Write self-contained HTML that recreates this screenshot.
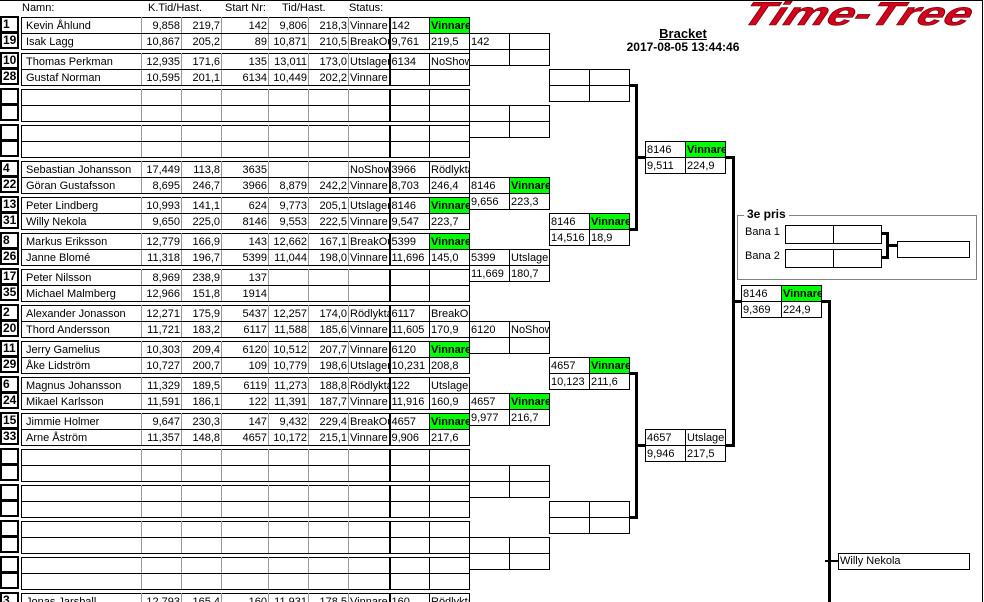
<!DOCTYPE html>
<html><head><meta charset="utf-8">
<style>
*{margin:0;padding:0;box-sizing:border-box}
html,body{width:984px;height:602px;overflow:hidden;background:#fff}
body{position:relative;font-family:"Liberation Sans",Arial,sans-serif;font-size:11px;color:#000}
.a{position:absolute}
.frame{position:absolute;left:0;top:0;width:983px;height:602px;border-top:1px solid #000;border-right:1px solid #000}
.hd{position:absolute;top:2px;font-size:11px}
.s{position:absolute;left:0;width:19px;height:17px;border:2px solid #000;font-weight:bold;font-size:12px;line-height:13px;padding-left:1px;background:#fff}
table{border-collapse:collapse;table-layout:fixed;position:absolute}
td{height:16px;padding:0 1px;border:1px solid #000;white-space:nowrap;overflow:hidden;line-height:14px;font-size:11px}
table.p{left:21px;width:448px}
table.p td.g{border-left-color:#999;border-right-color:#999}
table.p td.n{padding-left:4px;border-right-color:#999}
td.r{text-align:right}
td.k{border-left:2px solid #000}
td.v{background:#00ff00;font-weight:bold}
table.b{width:80px}
.ln{position:absolute;background:#000}
</style></head><body>
<div class="frame"></div>
<div class="hd" style="left:22px">Namn:</div>
<div class="hd" style="left:148px">K.Tid/Hast.</div>
<div class="hd" style="left:225px">Start Nr:</div>
<div class="hd" style="left:282px">Tid/Hast.</div>
<div class="hd" style="left:349px">Status:</div>

<svg class="a" style="left:730px;top:0" width="250" height="28">
<text x="10" y="25" font-family="Liberation Sans" font-weight="bold" font-style="italic" font-size="33" fill="#d4001c" stroke="#600" stroke-width="0.6" textLength="228" lengthAdjust="spacingAndGlyphs" transform="skewX(-22) translate(10,0)">Time-Tree</text>
</svg>
<div class="a" style="left:603px;top:26px;width:160px;text-align:center;font-weight:bold;font-size:13px;text-decoration:underline">Bracket</div>
<div class="a" style="left:603px;top:40px;width:160px;text-align:center;font-weight:bold;font-size:12px">2017-08-05 13:44:46</div>

<!-- seeds -->
<div class="s" style="top:16px">1</div><div class="s" style="top:32px">19</div>
<div class="s" style="top:52px">10</div><div class="s" style="top:68px">28</div>
<div class="s" style="top:88px"></div><div class="s" style="top:104px"></div>
<div class="s" style="top:124px"></div><div class="s" style="top:140px"></div>
<div class="s" style="top:160px">4</div><div class="s" style="top:176px">22</div>
<div class="s" style="top:196px">13</div><div class="s" style="top:212px">31</div>
<div class="s" style="top:232px">8</div><div class="s" style="top:248px">26</div>
<div class="s" style="top:268px">17</div><div class="s" style="top:284px">35</div>
<div class="s" style="top:304px">2</div><div class="s" style="top:320px">20</div>
<div class="s" style="top:340px">11</div><div class="s" style="top:356px">29</div>
<div class="s" style="top:376px">6</div><div class="s" style="top:392px">24</div>
<div class="s" style="top:412px">15</div><div class="s" style="top:428px">33</div>
<div class="s" style="top:448px"></div><div class="s" style="top:464px"></div>
<div class="s" style="top:484px"></div><div class="s" style="top:500px"></div>
<div class="s" style="top:520px"></div><div class="s" style="top:536px"></div>
<div class="s" style="top:556px"></div><div class="s" style="top:572px"></div>
<div class="s" style="top:592px">3</div>

<colgroup></colgroup>
<table class="p" style="top:17px"><col style="width:120px"><col style="width:40px"><col style="width:40px"><col style="width:47px"><col style="width:40px"><col style="width:40px"><col style="width:41px"><col style="width:40px"><col style="width:40px">
<tr><td class="n">Kevin Åhlund</td><td class="g r">9,858</td><td class="g r">219,7</td><td class="g r">142</td><td class="g r">9,806</td><td class="g r">218,3</td><td class="g">Vinnare</td><td class="k">142</td><td class="v">Vinnare</td></tr>
<tr><td class="n">Isak Lagg</td><td class="g r">10,867</td><td class="g r">205,2</td><td class="g r">89</td><td class="g r">10,871</td><td class="g r">210,5</td><td class="g">BreakOut</td><td class="k">9,761</td><td>219,5</td></tr></table>

<table class="p" style="top:53px"><col style="width:120px"><col style="width:40px"><col style="width:40px"><col style="width:47px"><col style="width:40px"><col style="width:40px"><col style="width:41px"><col style="width:40px"><col style="width:40px">
<tr><td class="n">Thomas Perkman</td><td class="g r">12,935</td><td class="g r">171,6</td><td class="g r">135</td><td class="g r">13,011</td><td class="g r">173,0</td><td class="g">Utslagen</td><td class="k">6134</td><td>NoShow</td></tr>
<tr><td class="n">Gustaf Norman</td><td class="g r">10,595</td><td class="g r">201,1</td><td class="g r">6134</td><td class="g r">10,449</td><td class="g r">202,2</td><td class="g">Vinnare</td><td class="k"></td><td></td></tr></table>

<table class="p" style="top:89px"><col style="width:120px"><col style="width:40px"><col style="width:40px"><col style="width:47px"><col style="width:40px"><col style="width:40px"><col style="width:41px"><col style="width:40px"><col style="width:40px">
<tr><td class="n"></td><td class="g"></td><td class="g"></td><td class="g"></td><td class="g"></td><td class="g"></td><td class="g"></td><td class="k"></td><td></td></tr>
<tr><td class="n"></td><td class="g"></td><td class="g"></td><td class="g"></td><td class="g"></td><td class="g"></td><td class="g"></td><td class="k"></td><td></td></tr></table>

<table class="p" style="top:125px"><col style="width:120px"><col style="width:40px"><col style="width:40px"><col style="width:47px"><col style="width:40px"><col style="width:40px"><col style="width:41px"><col style="width:40px"><col style="width:40px">
<tr><td class="n"></td><td class="g"></td><td class="g"></td><td class="g"></td><td class="g"></td><td class="g"></td><td class="g"></td><td class="k"></td><td></td></tr>
<tr><td class="n"></td><td class="g"></td><td class="g"></td><td class="g"></td><td class="g"></td><td class="g"></td><td class="g"></td><td class="k"></td><td></td></tr></table>

<table class="p" style="top:161px"><col style="width:120px"><col style="width:40px"><col style="width:40px"><col style="width:47px"><col style="width:40px"><col style="width:40px"><col style="width:41px"><col style="width:40px"><col style="width:40px">
<tr><td class="n">Sebastian Johansson</td><td class="g r">17,449</td><td class="g r">113,8</td><td class="g r">3635</td><td class="g r"></td><td class="g r"></td><td class="g r">NoShow</td><td class="k">3966</td><td>Rödlykta</td></tr>
<tr><td class="n">Göran Gustafsson</td><td class="g r">8,695</td><td class="g r">246,7</td><td class="g r">3966</td><td class="g r">8,879</td><td class="g r">242,2</td><td class="g">Vinnare</td><td class="k">8,703</td><td>246,4</td></tr></table>

<table class="p" style="top:197px"><col style="width:120px"><col style="width:40px"><col style="width:40px"><col style="width:47px"><col style="width:40px"><col style="width:40px"><col style="width:41px"><col style="width:40px"><col style="width:40px">
<tr><td class="n">Peter Lindberg</td><td class="g r">10,993</td><td class="g r">141,1</td><td class="g r">624</td><td class="g r">9,773</td><td class="g r">205,1</td><td class="g">Utslagen</td><td class="k">8146</td><td class="v">Vinnare</td></tr>
<tr><td class="n">Willy Nekola</td><td class="g r">9,650</td><td class="g r">225,0</td><td class="g r">8146</td><td class="g r">9,553</td><td class="g r">222,5</td><td class="g">Vinnare</td><td class="k">9,547</td><td>223,7</td></tr></table>

<table class="p" style="top:233px"><col style="width:120px"><col style="width:40px"><col style="width:40px"><col style="width:47px"><col style="width:40px"><col style="width:40px"><col style="width:41px"><col style="width:40px"><col style="width:40px">
<tr><td class="n">Markus Eriksson</td><td class="g r">12,779</td><td class="g r">166,9</td><td class="g r">143</td><td class="g r">12,662</td><td class="g r">167,1</td><td class="g">BreakOut</td><td class="k">5399</td><td class="v">Vinnare</td></tr>
<tr><td class="n">Janne Blomé</td><td class="g r">11,318</td><td class="g r">196,7</td><td class="g r">5399</td><td class="g r">11,044</td><td class="g r">198,0</td><td class="g">Vinnare</td><td class="k">11,696</td><td>145,0</td></tr></table>

<table class="p" style="top:269px"><col style="width:120px"><col style="width:40px"><col style="width:40px"><col style="width:47px"><col style="width:40px"><col style="width:40px"><col style="width:41px"><col style="width:40px"><col style="width:40px">
<tr><td class="n">Peter Nilsson</td><td class="g r">8,969</td><td class="g r">238,9</td><td class="g r">137</td><td class="g"></td><td class="g"></td><td class="g"></td><td class="k"></td><td></td></tr>
<tr><td class="n">Michael Malmberg</td><td class="g r">12,966</td><td class="g r">151,8</td><td class="g r">1914</td><td class="g"></td><td class="g"></td><td class="g"></td><td class="k"></td><td></td></tr></table>

<table class="p" style="top:305px"><col style="width:120px"><col style="width:40px"><col style="width:40px"><col style="width:47px"><col style="width:40px"><col style="width:40px"><col style="width:41px"><col style="width:40px"><col style="width:40px">
<tr><td class="n">Alexander Jonasson</td><td class="g r">12,271</td><td class="g r">175,9</td><td class="g r">5437</td><td class="g r">12,257</td><td class="g r">174,0</td><td class="g">Rödlykta</td><td class="k">6117</td><td>BreakOut</td></tr>
<tr><td class="n">Thord Andersson</td><td class="g r">11,721</td><td class="g r">183,2</td><td class="g r">6117</td><td class="g r">11,588</td><td class="g r">185,6</td><td class="g">Vinnare</td><td class="k">11,605</td><td>170,9</td></tr></table>

<table class="p" style="top:341px"><col style="width:120px"><col style="width:40px"><col style="width:40px"><col style="width:47px"><col style="width:40px"><col style="width:40px"><col style="width:41px"><col style="width:40px"><col style="width:40px">
<tr><td class="n">Jerry Gamelius</td><td class="g r">10,303</td><td class="g r">209,4</td><td class="g r">6120</td><td class="g r">10,512</td><td class="g r">207,7</td><td class="g">Vinnare</td><td class="k">6120</td><td class="v">Vinnare</td></tr>
<tr><td class="n">Åke Lidström</td><td class="g r">10,727</td><td class="g r">200,7</td><td class="g r">109</td><td class="g r">10,779</td><td class="g r">198,6</td><td class="g">Utslagen</td><td class="k">10,231</td><td>208,8</td></tr></table>

<table class="p" style="top:377px"><col style="width:120px"><col style="width:40px"><col style="width:40px"><col style="width:47px"><col style="width:40px"><col style="width:40px"><col style="width:41px"><col style="width:40px"><col style="width:40px">
<tr><td class="n">Magnus Johansson</td><td class="g r">11,329</td><td class="g r">189,5</td><td class="g r">6119</td><td class="g r">11,273</td><td class="g r">188,8</td><td class="g">Rödlykta</td><td class="k">122</td><td>Utslagen</td></tr>
<tr><td class="n">Mikael Karlsson</td><td class="g r">11,591</td><td class="g r">186,1</td><td class="g r">122</td><td class="g r">11,391</td><td class="g r">187,7</td><td class="g">Vinnare</td><td class="k">11,916</td><td>160,9</td></tr></table>

<table class="p" style="top:413px"><col style="width:120px"><col style="width:40px"><col style="width:40px"><col style="width:47px"><col style="width:40px"><col style="width:40px"><col style="width:41px"><col style="width:40px"><col style="width:40px">
<tr><td class="n">Jimmie Holmer</td><td class="g r">9,647</td><td class="g r">230,3</td><td class="g r">147</td><td class="g r">9,432</td><td class="g r">229,4</td><td class="g">BreakOut</td><td class="k">4657</td><td class="v">Vinnare</td></tr>
<tr><td class="n">Arne Åström</td><td class="g r">11,357</td><td class="g r">148,8</td><td class="g r">4657</td><td class="g r">10,172</td><td class="g r">215,1</td><td class="g">Vinnare</td><td class="k">9,906</td><td>217,6</td></tr></table>

<table class="p" style="top:449px"><col style="width:120px"><col style="width:40px"><col style="width:40px"><col style="width:47px"><col style="width:40px"><col style="width:40px"><col style="width:41px"><col style="width:40px"><col style="width:40px">
<tr><td class="n"></td><td class="g"></td><td class="g"></td><td class="g"></td><td class="g"></td><td class="g"></td><td class="g"></td><td class="k"></td><td></td></tr>
<tr><td class="n"></td><td class="g"></td><td class="g"></td><td class="g"></td><td class="g"></td><td class="g"></td><td class="g"></td><td class="k"></td><td></td></tr></table>

<table class="p" style="top:485px"><col style="width:120px"><col style="width:40px"><col style="width:40px"><col style="width:47px"><col style="width:40px"><col style="width:40px"><col style="width:41px"><col style="width:40px"><col style="width:40px">
<tr><td class="n"></td><td class="g"></td><td class="g"></td><td class="g"></td><td class="g"></td><td class="g"></td><td class="g"></td><td class="k"></td><td></td></tr>
<tr><td class="n"></td><td class="g"></td><td class="g"></td><td class="g"></td><td class="g"></td><td class="g"></td><td class="g"></td><td class="k"></td><td></td></tr></table>

<table class="p" style="top:521px"><col style="width:120px"><col style="width:40px"><col style="width:40px"><col style="width:47px"><col style="width:40px"><col style="width:40px"><col style="width:41px"><col style="width:40px"><col style="width:40px">
<tr><td class="n"></td><td class="g"></td><td class="g"></td><td class="g"></td><td class="g"></td><td class="g"></td><td class="g"></td><td class="k"></td><td></td></tr>
<tr><td class="n"></td><td class="g"></td><td class="g"></td><td class="g"></td><td class="g"></td><td class="g"></td><td class="g"></td><td class="k"></td><td></td></tr></table>

<table class="p" style="top:557px"><col style="width:120px"><col style="width:40px"><col style="width:40px"><col style="width:47px"><col style="width:40px"><col style="width:40px"><col style="width:41px"><col style="width:40px"><col style="width:40px">
<tr><td class="n"></td><td class="g"></td><td class="g"></td><td class="g"></td><td class="g"></td><td class="g"></td><td class="g"></td><td class="k"></td><td></td></tr>
<tr><td class="n"></td><td class="g"></td><td class="g"></td><td class="g"></td><td class="g"></td><td class="g"></td><td class="g"></td><td class="k"></td><td></td></tr></table>

<table class="p" style="top:593px"><col style="width:120px"><col style="width:40px"><col style="width:40px"><col style="width:47px"><col style="width:40px"><col style="width:40px"><col style="width:41px"><col style="width:40px"><col style="width:40px">
<tr><td class="n">Jonas Jarsball</td><td class="g r">12,793</td><td class="g r">165,4</td><td class="g r">160</td><td class="g r">11,931</td><td class="g r">178,5</td><td class="g">Vinnare</td><td class="k">160</td><td>Rödlykta</td></tr>
<tr><td class="n">&nbsp;</td><td class="g"></td><td class="g"></td><td class="g"></td><td class="g"></td><td class="g"></td><td class="g"></td><td class="k"></td><td></td></tr></table>

<!-- round 2 -->
<table class="b" style="left:469px;top:33px"><col style="width:40px"><col style="width:40px"><tr><td>142</td><td></td></tr><tr><td></td><td></td></tr></table>
<table class="b" style="left:469px;top:105px"><col style="width:40px"><col style="width:40px"><tr><td></td><td></td></tr><tr><td></td><td></td></tr></table>
<table class="b" style="left:469px;top:177px"><col style="width:40px"><col style="width:40px"><tr><td>8146</td><td class="v">Vinnare</td></tr><tr><td>9,656</td><td>223,3</td></tr></table>
<table class="b" style="left:469px;top:249px"><col style="width:40px"><col style="width:40px"><tr><td>5399</td><td>Utslagen</td></tr><tr><td>11,669</td><td>180,7</td></tr></table>
<table class="b" style="left:469px;top:321px"><col style="width:40px"><col style="width:40px"><tr><td>6120</td><td>NoShow</td></tr><tr><td></td><td></td></tr></table>
<table class="b" style="left:469px;top:393px"><col style="width:40px"><col style="width:40px"><tr><td>4657</td><td class="v">Vinnare</td></tr><tr><td>9,977</td><td>216,7</td></tr></table>
<table class="b" style="left:469px;top:465px"><col style="width:40px"><col style="width:40px"><tr><td></td><td></td></tr><tr><td></td><td></td></tr></table>
<table class="b" style="left:469px;top:537px"><col style="width:40px"><col style="width:40px"><tr><td></td><td></td></tr><tr><td></td><td></td></tr></table>

<!-- round 3 -->
<table class="b" style="left:549px;top:69px"><col style="width:40px"><col style="width:40px"><tr><td></td><td></td></tr><tr><td></td><td></td></tr></table>
<table class="b" style="left:549px;top:213px"><col style="width:40px"><col style="width:40px"><tr><td>8146</td><td class="v">Vinnare</td></tr><tr><td>14,516</td><td>18,9</td></tr></table>
<table class="b" style="left:549px;top:357px"><col style="width:40px"><col style="width:40px"><tr><td>4657</td><td class="v">Vinnare</td></tr><tr><td>10,123</td><td>211,6</td></tr></table>
<table class="b" style="left:549px;top:501px"><col style="width:40px"><col style="width:40px"><tr><td></td><td></td></tr><tr><td></td><td></td></tr></table>

<!-- round 4 -->
<table class="b" style="left:645px;top:141px"><col style="width:40px"><col style="width:40px"><tr><td>8146</td><td class="v">Vinnare</td></tr><tr><td>9,511</td><td>224,9</td></tr></table>
<table class="b" style="left:645px;top:429px"><col style="width:40px"><col style="width:40px"><tr><td>4657</td><td>Utslagen</td></tr><tr><td>9,946</td><td>217,5</td></tr></table>
<!-- final -->
<table class="b" style="left:741px;top:285px"><col style="width:40px"><col style="width:40px"><tr><td>8146</td><td class="v">Vinnare</td></tr><tr><td>9,369</td><td>224,9</td></tr></table>

<!-- connectors -->
<div class="ln" style="left:629px;top:84px;width:9px;height:3px"></div>
<div class="ln" style="left:629px;top:228px;width:9px;height:3px"></div>
<div class="ln" style="left:635px;top:84px;width:3px;height:147px"></div>
<div class="ln" style="left:635px;top:156px;width:10px;height:3px"></div>
<div class="ln" style="left:629px;top:372px;width:9px;height:3px"></div>
<div class="ln" style="left:629px;top:516px;width:9px;height:3px"></div>
<div class="ln" style="left:635px;top:372px;width:3px;height:147px"></div>
<div class="ln" style="left:635px;top:444px;width:10px;height:3px"></div>

<div class="ln" style="left:725px;top:156px;width:10px;height:3px"></div>
<div class="ln" style="left:725px;top:444px;width:10px;height:3px"></div>
<div class="ln" style="left:732px;top:156px;width:3px;height:291px"></div>
<div class="ln" style="left:732px;top:300px;width:9px;height:3px"></div>

<div class="ln" style="left:821px;top:300px;width:10px;height:3px"></div>
<div class="ln" style="left:828px;top:300px;width:3px;height:302px"></div>
<div class="ln" style="left:825px;top:560px;width:14px;height:2px"></div>
<div class="a" style="left:838px;top:553px;width:132px;height:17px;border:1px solid #000;padding-left:1px;line-height:14px;background:#fff">Willy Nekola</div>

<!-- 3e pris -->
<div class="a" style="left:737px;top:215px;width:240px;height:65px;border:1px solid #808080"></div>
<div class="a" style="left:744px;top:207px;padding:0 3px;background:#fff;font-weight:bold;font-size:12px">3e pris</div>
<div class="a" style="left:745px;top:226px">Bana 1</div>
<div class="a" style="left:745px;top:250px">Bana 2</div>
<table class="b" style="left:785px;top:225px;width:96px"><col style="width:48px"><col style="width:48px"><tr><td style="height:18px"></td><td style="height:18px"></td></tr></table>
<table class="b" style="left:785px;top:249px;width:96px"><col style="width:48px"><col style="width:48px"><tr><td style="height:18px"></td><td style="height:18px"></td></tr></table>
<div class="ln" style="left:881px;top:232px;width:8px;height:3px"></div>
<div class="ln" style="left:881px;top:256px;width:8px;height:3px"></div>
<div class="ln" style="left:886px;top:232px;width:3px;height:27px"></div>
<div class="ln" style="left:886px;top:244px;width:11px;height:3px"></div>
<div class="a" style="left:897px;top:241px;width:73px;height:17px;border:1px solid #000"></div>
</body></html>
